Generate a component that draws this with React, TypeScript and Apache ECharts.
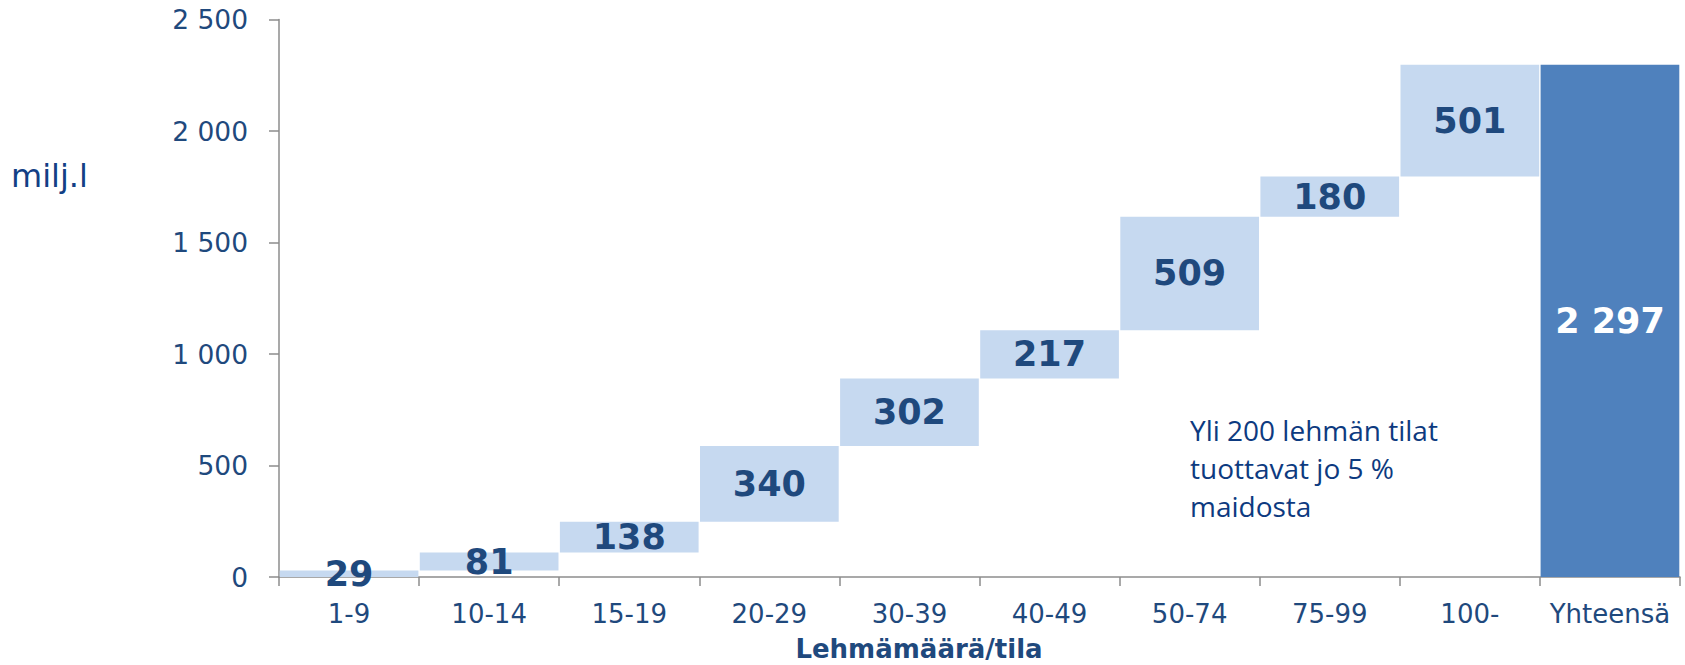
import React, { useEffect, useRef } from "react";
import * as echarts from "echarts";

const categories = ["1-9", "10-14", "15-19", "20-29", "30-39", "40-49", "50-74", "75-99", "100-", "Yhteensä"];
const increments = [29, 81, 138, 340, 302, 217, 509, 180, 501];
const totalValue = 2297;
const yTicks = [0, 500, 1000, 1500, 2000, 2500];
const yAxisTitle = "milj.l";
const xAxisTitle = "Lehmämäärä/tila";
const noteLines = ["Yli 200 lehmän tilat", "tuottavat jo 5 %", "maidosta"];

const fmt = (v: number) => String(v).replace(/\B(?=(\d{3})+(?!\d))/g, " ");

export default function App() {
  const ref = useRef<HTMLDivElement>(null);
  useEffect(() => {
    document.body.style.margin = "0";
    if (!ref.current) return;
    const chart = echarts.init(ref.current, null, { renderer: "svg" });

    const base: number[] = [];
    let acc = 0;
    increments.forEach((v) => {
      base.push(acc);
      acc += v;
    });
    base.push(0);
    const vals = [...increments, totalValue];
    const dataVals = vals.map((v, i) => ({
      value: v,
      itemStyle: { color: i === vals.length - 1 ? "#4f81bd" : "#c6d9f0" },
      label: i === vals.length - 1 ? { color: "#ffffff" } : undefined,
    }));

    const blue = "#1f497d";
    const axisGray = "#8c8c8c";

    chart.setOption({
      animation: false,
      grid: { left: 279, right: 5, top: 19.5, bottom: 88, containLabel: false },
      xAxis: {
        type: "category",
        data: categories,
        axisLine: { lineStyle: { color: axisGray, width: 1.5 } },
        axisTick: { show: true, length: 9, lineStyle: { color: axisGray, width: 1.5 } },
        axisLabel: {
          interval: 0,
          margin: 24,
          color: blue,
          fontSize: 26,
          fontFamily: "DejaVu Sans",
        },
        splitLine: { show: false },
      },
      yAxis: {
        type: "value",
        min: yTicks[0],
        max: yTicks[yTicks.length - 1],
        interval: 500,
        axisLine: { show: true, lineStyle: { color: axisGray, width: 1.5 } },
        axisTick: { show: true, length: 10, lineStyle: { color: axisGray, width: 1.5 } },
        axisLabel: {
          margin: 31,
          color: blue,
          fontSize: 26.5,
          fontFamily: "DejaVu Sans",
          formatter: (v: number) => fmt(v),
        },
        splitLine: { show: false },
      },
      series: [
        {
          type: "bar",
          stack: "w",
          data: base,
          itemStyle: { color: "transparent" },
          silent: true,
          barCategoryGap: "1%",
        },
        {
          type: "bar",
          stack: "w",
          data: dataVals,
          barCategoryGap: "1%",
          label: {
            show: true,
            position: "inside",
            color: blue,
            fontSize: 35,
            fontWeight: "bold",
            fontFamily: "DejaVu Sans",
            formatter: (p: any) => fmt(p.value),
          },
        },
      ],
      graphic: [
        {
          type: "text",
          left: 11,
          top: 175.7 - 16,
          style: {
            text: yAxisTitle,
            fill: "#133f85",
            fontSize: 32,
            fontFamily: "DejaVu Sans",
          },
        },
        {
          type: "text",
          x: 919,
          y: 649,
          style: {
            text: xAxisTitle,
            fill: blue,
            fontSize: 26,
            fontWeight: "bold",
            fontFamily: "DejaVu Sans",
            align: "center",
            verticalAlign: "middle",
          },
        },
        ...noteLines.map((t, i) => ({
          type: "text",
          x: 1190,
          y: 429.8 + i * 38,
          style: {
            text: t,
            fill: "#0d3a80",
            fontSize: 28,
            fontFamily: "Open Sans",
            align: "left",
            verticalAlign: "middle",
          },
        })),
      ],
    });
    const onResize = () => chart.resize();
    window.addEventListener("resize", onResize);
    return () => {
      window.removeEventListener("resize", onResize);
      chart.dispose();
    };
  }, []);
  return <div ref={ref} style={{ width: "100vw", height: "100vh" }} />;
}
